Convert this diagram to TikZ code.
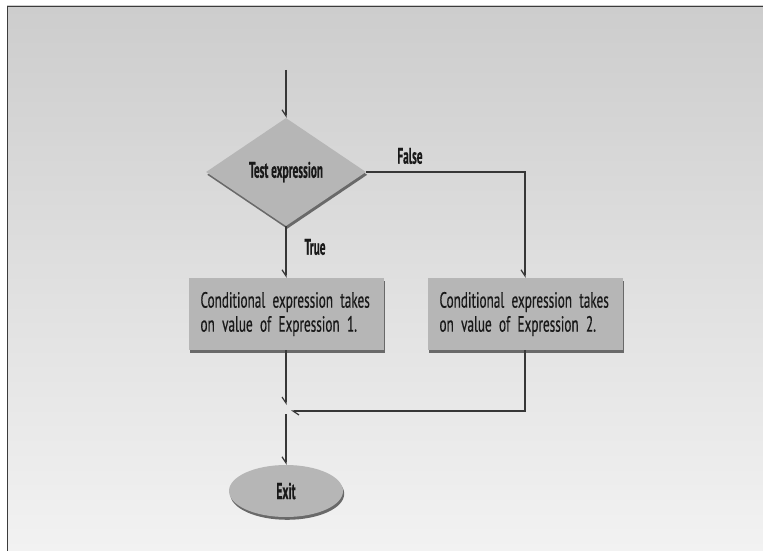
\documentclass[tikz,border=0pt]{standalone}
\usepackage{fontspec}
\setmainfont[FakeStretch=0.6, WordSpace=0.8, FakeBold=0.4, BoldFeatures={FakeStretch=0.5, WordSpace=1}]{PT Sans}
\usetikzlibrary{shapes.geometric,arrows.meta,shadows}
\definecolor{shapefill}{RGB}{182,182,182}
\definecolor{shadowc}{RGB}{105,105,105}
\definecolor{linec}{RGB}{55,55,55}
\definecolor{bgtop}{RGB}{205,205,205}
\definecolor{bgbot}{RGB}{242,242,242}
\definecolor{framec}{RGB}{60,60,60}
\definecolor{textc}{RGB}{25,25,25}
\begin{document}
\begin{tikzpicture}[x=1pt,y=-1pt,
  shp/.style={fill=shapefill, draw=none, text=textc, drop shadow={shadow xshift=1.2pt, shadow yshift=-2.8pt, fill=shadowc, opacity=1}},
  dia/.style={shp, diamond, aspect=1.48, minimum width=160pt, minimum height=108pt, inner sep=0pt, font=\fontsize{22.5}{24}\selectfont\bfseries},
  box/.style={shp, rectangle, minimum width=195pt, minimum height=72pt, inner xsep=12pt, text width=171pt, align=left, font=\fontsize{22}{24}\selectfont},
  ell/.style={shp, ellipse, minimum width=114pt, minimum height=52pt, inner sep=0pt, font=\fontsize{23}{24}\selectfont\bfseries},
  lbl/.style={font=\fontsize{22.5}{24}\selectfont\bfseries, text=textc, inner sep=0pt},
  conn/.style={draw=linec, line width=1.2pt},
  arrD/.style={conn, -{Straight Barb[harpoon,swap,length=6pt,width=8pt]}},
  arrW/.style={conn, -{Straight Barb[harpoon,length=6pt,width=8pt]}}
]
\useasboundingbox (0,0) rectangle (763,551);
\fill[white] (0,0) rectangle (763,551);
\shade[top color=bgtop, bottom color=bgbot] (7,6) rectangle (763,551);
\draw[framec, line width=1.8pt] (7,6.5) -- (763,6.5);
\draw[framec, line width=1.8pt] (7.5,6) -- (7.5,551);

\node[dia] (T) at (286,172) {Test expression};
\node[box] (L) at (286,314) {Conditional expression takes\\on value of Expression 1.};
\node[box] (R) at (525,314) {Conditional expression takes\\on value of Expression 2.};
\node[ell] (E) at (286,491) {Exit};

\coordinate (top) at (286,70);
\coordinate (ja) at (286,405);
\coordinate (jb) at (286,414);
\coordinate (jr) at (291,411);

\draw[arrD] (top) -- (T.north);
\draw[arrD] (T.east) -| (R.north);
\draw[arrD] (T.south) -- (L.north);
\draw[arrD] (L.south) -- (ja);
\draw[arrW] (R.south) |- (jr);
\draw[arrD] (jb) -- (E.north);

\node[lbl] (fl) at (410,156) {False};
\node[lbl] (tl) at (315,247) {True};
\end{tikzpicture}
\end{document}
